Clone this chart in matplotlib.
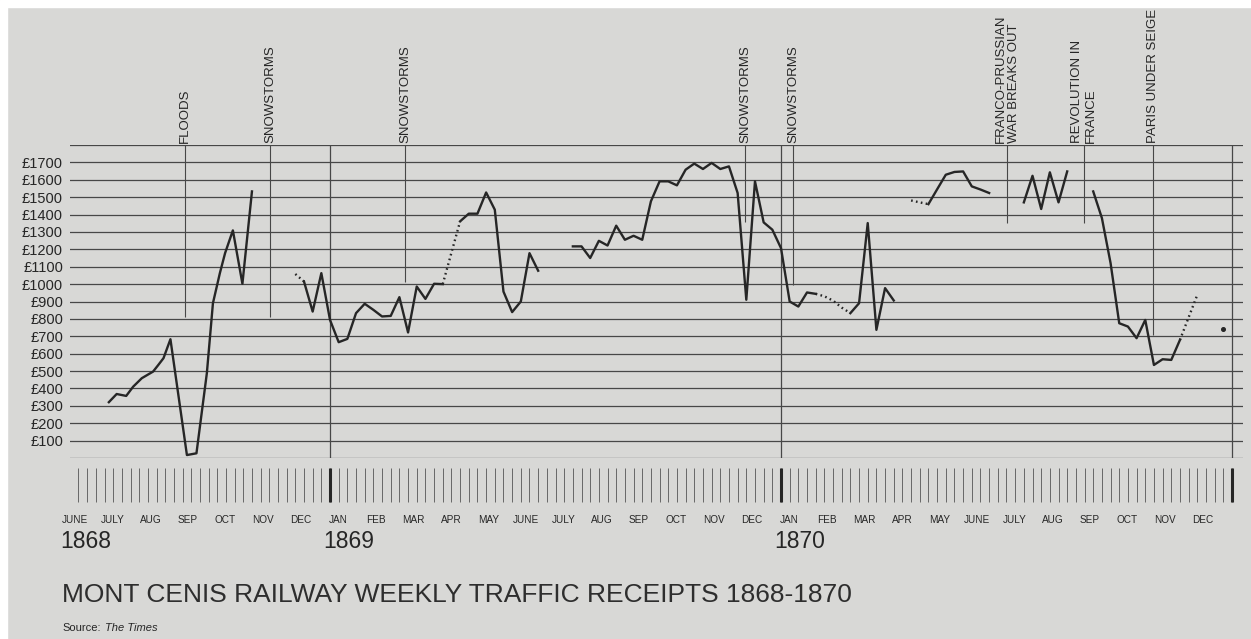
import matplotlib.pyplot as plt
import matplotlib.transforms as mtransforms
from matplotlib.patches import Rectangle

plt.rcParams['font.family'] = ['Liberation Sans', 'DejaVu Sans']

# x is weeks counted from 1 Jan 1869, y is weekly receipts in pounds
weeks_1868 = [-25.5, -24.6, -23.5, -22.7, -21.7, -20.4, -19.8, -19.2, -18.4,
              -16.5, -15.4, -14.2, -13.5, -12.7, -12.1, -11.2, -10.1, -9.0]
receipts_1868 = [321, 368, 357, 410, 459, 497, 535, 574, 683,
                 17, 27, 488, 890, 1063, 1178, 1309, 1002, 1533]

weeks_early69 = list(range(-3, 14))
receipts_early69 = [1015, 842, 1063, 794, 666, 685, 833, 887, 852, 814, 817,
                    925, 722, 986, 915, 1002, 1000]

weeks_spring69 = list(range(15, 25))
receipts_spring69 = [1361, 1405, 1405, 1527, 1428, 957, 839, 900, 1178, 1077]

weeks_late69 = list(range(28, 57))
receipts_late69 = [1217, 1217, 1150, 1249, 1222, 1336, 1255, 1278, 1255, 1476,
                   1591, 1591, 1568, 1658, 1693, 1662, 1697, 1662, 1677, 1524,
                   910, 1591, 1355, 1313, 1207, 900, 871, 952, 944]

weeks_mar70 = list(range(60, 66))
receipts_mar70 = [833, 890, 1351, 737, 977, 906]

weeks_may70 = list(range(69, 77))
receipts_may70 = [1460, 1545, 1629, 1645, 1648, 1562, 1544, 1524]

weeks_jul70 = list(range(80, 86))
receipts_jul70 = [1470, 1623, 1432, 1643, 1470, 1648]

weeks_sep70 = list(range(88, 99))
receipts_sep70 = [1533, 1380, 1121, 775, 756, 689, 794, 535, 568, 564, 679]

# estimated stretches, drawn dotted
est_weeks = [[-4, -3], [13, 15], [56, 57, 58, 59, 60], [67, 68, 69], [98, 100]]
est_receipts = [[1058, 1015], [1000, 1361], [944, 930, 905, 865, 833],
                [1481, 1470, 1460], [679, 938]]
lone_week, lone_receipt = 103, 741

event_weeks = [-16.7, -6.9, 8.7, 47.9, 53.4, 78.1, 86.9, 94.9]
event_floor = [812, 812, 1014, 1359, 995, 1351, 1351, 707]
event_labels = ['FLOODS', 'SNOWSTORMS', 'SNOWSTORMS', 'SNOWSTORMS', 'SNOWSTORMS',
                'FRANCO-PRUSSIAN\nWAR BREAKS OUT', 'REVOLUTION IN\nFRANCE',
                'PARIS UNDER SEIGE']

month_abbr = ['JAN', 'FEB', 'MAR', 'APR', 'MAY', 'JUNE',
              'JULY', 'AUG', 'SEP', 'OCT', 'NOV', 'DEC']
month_names = month_abbr[5:] + month_abbr + month_abbr
years = ['1868', '1869', '1870']

ink = '#262626'
rule = '#474747'

fig = plt.figure(figsize=(12.51, 6.39), dpi=100, facecolor='#d8d8d6')
fig.patches.append(Rectangle((0, 1 - 7 / 639), 1, 7 / 639, transform=fig.transFigure,
                             color='white', zorder=0))
fig.patches.append(Rectangle((0, 0), 7 / 1251, 1, transform=fig.transFigure,
                             color='white', zorder=0))

ax = fig.add_axes([70 / 1251, 181 / 639, 1173 / 1251, 313 / 639])
ax.set_facecolor('none')
ax.set_xlim(-29.98, 105.27)
ax.set_ylim(0, 1800)
for s in ax.spines.values():
    s.set_visible(False)

for v in range(0, 1900, 100):
    ax.axhline(v, color=rule, lw=0.9, zorder=1)

ax.set_xticks([])
ax.set_yticks(range(100, 1800, 100))
ax.set_yticklabels([f'£{v}' for v in range(100, 1800, 100)])
ax.tick_params(axis='y', length=0, pad=5, labelsize=10.5, labelcolor=ink)

# year boundaries and event markers
ax.vlines([0, 52, 104], 0, 1800, color=rule, lw=0.9, zorder=1)
ax.vlines(event_weeks, event_floor, 1800, color=rule, lw=0.8, zorder=1)
for w, lab in zip(event_weeks, event_labels):
    ax.text(w, 1812, lab, rotation=90, ha='center', va='bottom',
            multialignment='left', fontsize=9.5, color=ink, clip_on=False)

# weekly tick strip under the grid
ax.vlines(range(-29, 105), -60, -255, color='#555555', lw=0.6, clip_on=False)
ax.vlines([0, 52, 104], -55, -255, color=ink, lw=2.2, clip_on=False)

segments = [(weeks_1868, receipts_1868), (weeks_early69, receipts_early69),
            (weeks_spring69, receipts_spring69), (weeks_late69, receipts_late69),
            (weeks_mar70, receipts_mar70), (weeks_may70, receipts_may70),
            (weeks_jul70, receipts_jul70), (weeks_sep70, receipts_sep70)]
for wk, rc in segments:
    ax.plot(wk, rc, color=ink, lw=1.7, zorder=3)
for wk, rc in zip(est_weeks, est_receipts):
    ax.plot(wk, rc, color=ink, lw=1.7, linestyle=(0, (0.7, 1.4)), zorder=3)
ax.plot(lone_week, lone_receipt, 'o', color=ink, ms=2.6, zorder=3)

# month and year labels along the bottom
trans = mtransforms.blended_transform_factory(ax.transData, fig.transFigure)
for i, name in enumerate(month_names):
    start = (i - 7) * 52 / 12
    fig.text(start + 0.95, 1 - 520 / 639, name, transform=trans, ha='center',
             va='center', fontsize=7.2, color=ink)
for i, yr in enumerate(years):
    start = -7 * 52 / 12 if i == 0 else (i - 1) * 52
    fig.text(start - 0.8, 1 - 542 / 639, yr, transform=trans, ha='left',
             va='center', fontsize=16.5, color=ink)

fig.text(62 / 1251, 1 - 595 / 639, 'MONT CENIS RAILWAY WEEKLY TRAFFIC RECEIPTS 1868-1870',
         ha='left', va='center', fontsize=19, color='#2e2e2e')
src = fig.text(62 / 1251, 1 - 628 / 639, 'Source:', ha='left', va='center',
               fontsize=8, color=ink)
ax.annotate('The Times', xy=(1, 0), xycoords=src, xytext=(3, 0),
            textcoords='offset points', ha='left', va='bottom', fontsize=8,
            style='italic', color=ink, annotation_clip=False)

plt.savefig('out.png', dpi=100, facecolor=fig.get_facecolor())
plt.close()
